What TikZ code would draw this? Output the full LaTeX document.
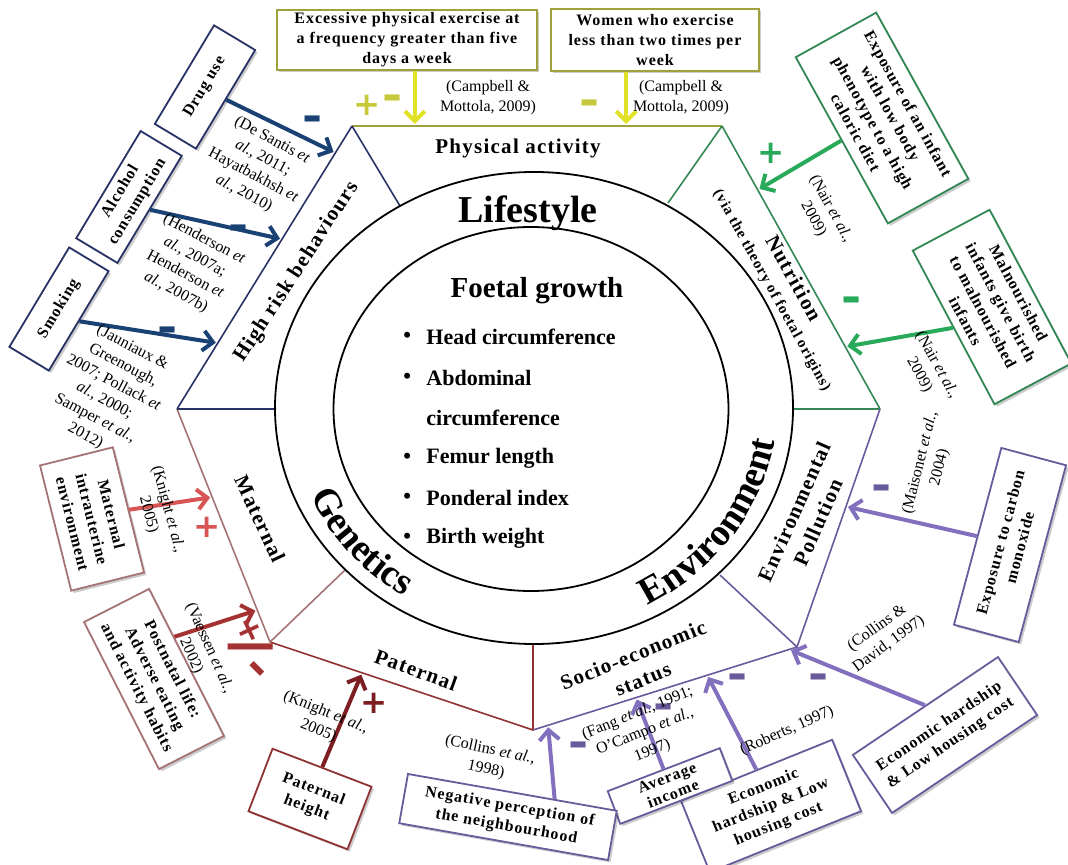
\documentclass[tikz,border=0pt]{standalone}
\usepackage{fontspec}
\setmainfont{Liberation Serif}
\newfontfamily\widefont[LetterSpace=6]{Liberation Serif}
\newfontfamily\signfont{DejaVu Sans}
\usetikzlibrary{arrows.meta,calc,decorations.text,positioning,shadows}

\definecolor{paline}{RGB}{160,160,60}
\definecolor{paarrow}{RGB}{225,225,40}
\definecolor{pasign}{RGB}{200,200,60}
\definecolor{hrline}{RGB}{40,50,100}
\definecolor{hrarrow}{RGB}{25,65,115}
\definecolor{nuline}{RGB}{50,135,85}
\definecolor{nuarrow}{RGB}{40,170,90}
\definecolor{enline}{RGB}{105,90,155}
\definecolor{enarrow}{RGB}{130,112,190}
\definecolor{maline}{RGB}{165,115,115}
\definecolor{maarrow}{RGB}{215,85,85}
\definecolor{pnarrow}{RGB}{165,50,50}
\definecolor{ptline}{RGB}{145,50,50}
\definecolor{ptarrow}{RGB}{125,30,35}

\newcommand\ringfont{\fontsize{19}{19}\selectfont\bfseries}
\newcommand\thickminus{\scalebox{1}[2.2]{−}}
\newcommand\thickplus{\scalebox{1.35}{+}}

\begin{document}
\begin{tikzpicture}
        [x=0.5pt, y=-0.5pt,
         factor/.style={draw=#1, line width=0.9pt, fill=white, align=center, inner sep=1pt,
                        drop shadow={shadow xshift=1.2pt, shadow yshift=-1.2pt, fill=black, opacity=0.2},
                        font=\widefont\bfseries\fontsize{8}{10}\selectfont},
         citation/.style={align=center, inner sep=0pt, font=\fontsize{8}{10}\selectfont},
         zone/.style={align=center, inner sep=0pt, font=\widefont\bfseries\fontsize{10.5}{13}\selectfont},
         link/.style={-{Straight Barb[length=5pt,width=10pt]}, line width=2pt, draw=#1, shorten >=1pt},
         signmark/.style={text=#1, inner sep=0pt, font=\signfont\bfseries\fontsize{12}{12}\selectfont},
         ring/.style={line width=0.9pt},
         fgitem/.style={anchor=west, inner sep=0pt, font=\bfseries\fontsize{11}{13}\selectfont}]

        \useasboundingbox (0,0) rectangle (1068,865);

        % corners of the outer frame and the inner ends of the dividers
        \coordinate (A) at (352,126);
        \coordinate (B) at (722,126);
        \coordinate (C) at (880,409);
        \coordinate (D) at (797,647);
        \coordinate (E) at (533,730);
        \coordinate (F) at (270,642);
        \coordinate (G) at (177,409);
        \coordinate (Ai) at (400,206);
        \coordinate (Bi) at (668,203);
        \coordinate (Ci) at (793,409);
        \coordinate (Di) at (720,575);
        \coordinate (Ei) at (533,643);
        \coordinate (Fi) at (345,570);
        \coordinate (Gi) at (276,409);

        \draw[paline, line width=1.3pt] (A) -- (B);
        \draw[nuline, line width=0.8pt] (B) -- (C) (B) -- (Bi) (C) -- (Ci);
        \draw[enline, line width=0.8pt] (C) -- (D) -- (E) (D) -- (Di);
        \draw[ptline, line width=0.8pt] (E) -- (F) (E) -- (Ei);
        \draw[maline, line width=0.8pt] (F) -- (G) (F) -- (Fi);
        \draw[hrline, line width=0.8pt] (G) -- (A) (A) -- (Ai) (G) -- (Gi);

        % rings
        \draw[ring] (534,408) ellipse [x radius=129.5pt, y radius=118pt];
        \draw[ring] (531,409) ellipse [x radius=98.75pt, y radius=91pt];

        \node[font=\ringfont, inner sep=0pt] (life) at (528,213) {Lifestyle};
        \path[decorate, decoration={text along path, text align=center, text={|\ringfont|Genetics}}]
                plot[domain=190:250, samples=40] ({534+243*cos(\x)}, {408-223*sin(\x)});
        \path[decorate, decoration={text along path, text align=center, text={|\ringfont|Environment}}]
                plot[domain=-70:0, samples=40] ({534+243*cos(\x)}, {408-223*sin(\x)});

        % centre
        \node[font=\bfseries\fontsize{14.5}{16}\selectfont] (fg) at (537,291) {Foetal growth};
        \foreach \yy/\txt [count=\i] in {337/Head circumference, 378/Abdominal,
                458/Femur length, 498/Ponderal index, 538/Birth weight}
        {
                \node[fgitem] (fgb\i) at (403,\yy) {\textbullet};
                \node[fgitem] (fg\i) at (426,\yy) {\txt};
        }
        \node[fgitem] (fg6) at (426,418) {circumference};

        % segment labels
        \node[zone] (pa) at (518,148) {Physical activity};
        \node[zone, rotate=57] (hrb) at (297,272) {High risk behaviours};
        \node[zone, rotate=-61] (nut) at (783,284)
                {Nutrition\\[-2pt]{\fontsize{7.5}{9}\selectfont (via the theory of foetal origins)}};
        \node[zone, rotate=66] (ep) at (806,517) {Environmental\\Pollution};
        \node[zone, rotate=22] (ses) at (638,667) {Socio-economic\\status};
        \node[zone, rotate=-20] (pat) at (416,670) {Paternal};
        \node[zone, rotate=-65] (mat) at (260,519) {Maternal};

        % physical activity
        \node[factor=paline, minimum width=130pt, minimum height=30pt] (exc) at (407,40)
                {Excessive physical exercise at\\a frequency greater than five\\days a week};
        \node[factor=paline, minimum width=104pt, minimum height=31pt] (wom) at (655,40)
                {Women who exercise\\less than two times per\\week};
        \coordinate (pa1) at ($(A)!0.17!(B)$);
        \coordinate (pa2) at ($(A)!0.741!(B)$);
        \draw[link=paarrow] (exc.south -| pa1) -- (pa1);
        \draw[link=paarrow] (wom.south -| pa2) -- (pa2);
        \node[signmark=pasign] (pap1) at (367,105) {\thickplus};
        \node[signmark=pasign] (pam1) at (393,105) {\thickminus};
        \node[signmark=pasign] (pam2) at (590,110) {\thickminus};
        \node[citation] (cpa1) at (488,98) {(Campbell \&\\Mottola, 2009)};
        \node[citation] (cpa2) at (681,98) {(Campbell \&\\Mottola, 2009)};

        % high risk behaviours
        \node[factor=hrline, minimum width=57.5pt, minimum height=24pt, rotate=59] (drug) at (205,87) {Drug use};
        \node[factor=hrline, minimum width=62.5pt, minimum height=24pt, rotate=59] (alc) at (129,197) {Alcohol\\consumption};
        \node[factor=hrline, minimum width=58pt, minimum height=23pt, rotate=59] (smk) at (59,309) {Smoking};
        \coordinate (hr1) at ($(G)!0.905!(A)$);
        \coordinate (hr2) at ($(G)!0.60!(A)$);
        \coordinate (hr3) at ($(G)!0.233!(A)$);
        \draw[link=hrarrow] (drug.south) -- (hr1);
        \draw[link=hrarrow] (alc.south) -- (hr2);
        \draw[link=hrarrow] (smk.south) -- (hr3);
        \node[signmark=hrarrow] (hrm1) at (313,126) {\thickminus};
        \node[signmark=hrarrow] (hrm2) at (239,235) {\thickminus};
        \node[signmark=hrarrow] (hrm3) at (168,337) {\thickminus};
        \node[citation, rotate=-28] (chr1) at (258,167)
                {(De Santis \textit{et}\\\textit{al.}, 2011;\\Hayatbakhsh \textit{et}\\\textit{al.}, 2010)};
        \node[citation, rotate=-28] (chr2) at (190,266)
                {(Henderson \textit{et}\\\textit{al.}, 2007a;\\Henderson \textit{et}\\\textit{al.}, 2007b)};
        \node[citation, rotate=-28] (chr3) at (109,392)
                {(Jauniaux \&\\Greenough,\\2007; Pollack \textit{et}\\\textit{al.}, 2000;\\Samper \textit{et al.},\\2012)};

        % nutrition
        \node[factor=nuline, minimum width=95pt, minimum height=46pt, rotate=-61] (inf) at (882,118)
                {Exposure of an infant\\with low body\\phenotype to a high\\caloric diet};
        \node[factor=nuline, minimum width=87pt, minimum height=43.5pt, rotate=-62] (mal) at (992,307)
                {Malnourished\\infants give birth\\to malnourished\\infants};
        \coordinate (nu1) at ($(B)!0.226!(C)$);
        \coordinate (nu2) at ($(B)!0.78!(C)$);
        \draw[link=nuarrow] (inf.south) -- (nu1);
        \draw[link=nuarrow] (mal.south) -- (nu2);
        \node[signmark=nuarrow] (nup1) at (771,153) {\thickplus};
        \node[signmark=nuarrow] (num1) at (852,307) {\thickminus};
        \node[citation, rotate=-61] (cnu1) at (822,214) {(Nair \textit{et al.},\\2009)};
        \node[citation, rotate=-61] (cnu2) at (928,370) {(Nair \textit{et al.},\\2009)};

        % environmental pollution
        \node[factor=enline, minimum width=91.5pt, minimum height=33.5pt, rotate=75] (co) at (1010,545)
                {Exposure to carbon\\monoxide};
        \coordinate (en1) at ($(C)!0.41!(D)$);
        \draw[link=enarrow] (co.north) -- (en1);
        \node[signmark=enline] (enm1) at (882,495) {\thickminus};
        \node[citation, rotate=76] (cen1) at (930,465) {(Maisonet \textit{et al.},\\2004)};

        % socio-economic status
        \node[factor=enline, minimum width=87.5pt, minimum height=35pt, rotate=34] (eh2) at (945,735)
                {Economic hardship\\\& Low housing cost};
        \node[factor=enline, minimum width=81.5pt, minimum height=38.5pt, rotate=22] (eh1) at (771,806)
                {Economic\\hardship \& Low\\housing cost};
        \node[factor=enline, minimum width=60pt, minimum height=17.5pt, rotate=21,
              font=\widefont\bfseries\fontsize{8}{8.5}\selectfont] (inc) at (670,786) {Average\\income};
        \node[factor=enline, minimum width=106pt, minimum height=25pt, rotate=-10] (neg) at (508,817)
                {Negative perception of\\the neighbourhood};
        \coordinate (se1) at ($(D)!0.03!(E)$);
        \coordinate (se2) at ($(D)!0.34!(E)$);
        \coordinate (se3) at ($(D)!0.61!(E)$);
        \coordinate (se4) at ($(D)!0.943!(E)$);
        \draw[link=enarrow] (eh2.north) -- (se1);
        \draw[link=enarrow] (eh1.north) -- (se2);
        \draw[link=enarrow] (inc.north) -- (se3);
        \draw[link=enarrow] ($(neg.north)!0.4!(neg.north east)$) -- (se4);
        \node[signmark=enline] (sem1) at (819,684) {\thickminus};
        \node[signmark=enline] (sem2) at (738,684) {\thickminus};
        \node[signmark=enline] (sem3) at (664,714) {\thickminus};
        \node[signmark=enline] (sem4) at (579,752) {\thickminus};
        \node[citation, rotate=22] (cse3) at (645,732) {(Fang \textit{et al.}, 1991;\\O'Campo \textit{et al.},\\1997)};
        \node[citation, rotate=36] (cse1) at (883,636) {(Collins \&\\David, 1997)};
        \node[citation, rotate=24] (cse2) at (787,731) {(Roberts, 1997)};
        \node[citation, rotate=-12] (cse4) at (488,760) {(Collins \textit{et al.},\\1998)};

        % paternal
        \node[factor=ptline, minimum width=53pt, minimum height=33.5pt, rotate=-21] (ph) at (310,799)
                {Paternal\\height};
        \coordinate (pt1) at ($(F)!0.35!(E)$);
        \draw[link=ptarrow] (ph.north) -- (pt1);
        \node[signmark=ptarrow] (ptp1) at (374,703) {\thickplus};
        \node[citation, rotate=-22] (cpt1) at (322,722) {(Knight \textit{et al.},\\2005)};

        % maternal
        \node[factor=maline, minimum width=64.5pt, minimum height=37.5pt, rotate=-76] (mie) at (92,519)
                {Maternal\\intrauterine\\environment};
        \node[factor=maline, minimum width=82.5pt, minimum height=36.5pt, rotate=-63] (pnl) at (154,679)
                {Postnatal life:\\Adverse eating\\and activity habits};
        \coordinate (ma1) at ($(G)!0.378!(F)$);
        \coordinate (ma2) at ($(G)!0.863!(F)$);
        \draw[link=maarrow] (mie.north) -- (ma1);
        \draw[link=pnarrow] ($(pnl.north)!0.34!(pnl.north west)$) -- (ma2);
        \node[signmark=maarrow] (map1) at (207,527) {\thickplus};
        \node[signmark=pnarrow, rotate=25] (map2) at (250,631) {\thickplus};
        \node[signmark=pnarrow] (mam2) at (251,654) {\scalebox{3}[2.2]{−}};
        \node[signmark=pnarrow, rotate=-45] (mam3) at (253,674) {\thickminus};
        \node[citation, rotate=-75] (cma1) at (158,512) {(Knight \textit{et al.},\\2005)};
        \node[citation, rotate=-66] (cma2) at (200,652) {(Vaessen \textit{et al.},\\2002)};
\end{tikzpicture}
\end{document}
